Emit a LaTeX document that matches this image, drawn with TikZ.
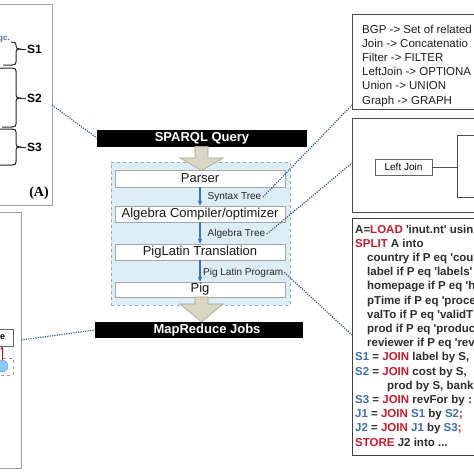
\documentclass[tikz,border=0pt]{standalone}
\usepackage{fontspec}
\setmainfont{Liberation Sans}
\newfontfamily\timesfont{Liberation Serif}
\usetikzlibrary{arrows.meta}
\definecolor{dotblue}{HTML}{3B5F8A}
\definecolor{flowblue}{HTML}{3A72C4}
\definecolor{panelfill}{HTML}{DCEDF5}
\definecolor{panelline}{HTML}{9AAAB4}
\definecolor{khaki}{HTML}{D8D8C2}
\definecolor{khakiline}{HTML}{A6A690}
\definecolor{codered}{HTML}{C41E2E}
\definecolor{codeblue}{HTML}{3F6FAE}
\definecolor{codetext}{HTML}{2E2E2E}
\definecolor{linkblue}{HTML}{4A6FA5}
\definecolor{cloudblue}{HTML}{8CC8F0}
\newcommand{\cR}[1]{\textcolor{codered}{#1}}
\newcommand{\cB}[1]{\textcolor{codeblue}{#1}}
\newcommand{\sq}{\textquotesingle}
\begin{document}
\begin{tikzpicture}[x=1pt,y=-1pt,
  frame/.style={draw=gray!75, line width=0.8pt, inner sep=0pt},
  stepbox/.style={draw=gray!70, fill=white, line width=0.7pt, minimum width=170pt, minimum height=16pt, inner sep=0pt, font=\fontsize{13}{13}\selectfont, text=black!90},
  bar/.style={fill=black, text=white, font=\bfseries\fontsize{13}{13}\selectfont, minimum height=16pt, inner sep=0pt},
  edgelbl/.style={font=\fontsize{10}{10}\selectfont, text=black!85, inner sep=1.5pt, anchor=west},
  dotline/.style={draw=dotblue, line width=1.2pt, dash pattern=on 1.2pt off 1.2pt},
  flow/.style={draw=flowblue, line width=1.1pt, -{Stealth[length=5pt,width=4.5pt]}},
  blockarrow/.style={fill=khaki, draw=khakiline, line width=0.6pt},
  rbox/.style={draw=black!70, line width=0.7pt, anchor=north west, inner sep=0pt},
  mapline/.style={font=\fontsize{11.5}{11.5}\selectfont, text=black!88, anchor=base west, inner sep=0pt},
  codeline/.style={font=\bfseries\fontsize{11.5}{11.5}\selectfont, text=codetext, anchor=base west, inner sep=0pt},
  slabel/.style={font=\bfseries\fontsize{12}{12}\selectfont, anchor=west, inner sep=0pt},
  bracel/.style={line width=1pt, draw=black!85},
]
\useasboundingbox (0,0) rectangle (474,474);
\fill[white] (0,0) rectangle (474,474);

% ---------- top-left panel ----------
\node[frame, anchor=north west, minimum width=57pt, minimum height=201pt] (tlbox) at (-5,4) {};
\node[font=\bfseries\fontsize{8}{8}\selectfont, text=linkblue, anchor=east, inner sep=0pt] (gc) at (10,39) {gc.};
\foreach \ya/\yt/\yb/\xa/\xb/\nm in {42/49/65/11/3/S1, 68/98/127/0/2/S2, 129/147/165/0/0/S3}{
  \draw[bracel] (\xa,\ya) -- (12,\ya) .. controls (15,\ya) and (16,\ya+1) .. (16,\ya+3)
     -- (16,\yt-3) .. controls (16,\yt-1) and (17,\yt) .. (20,\yt)
     .. controls (17,\yt) and (16,\yt+1) .. (16,\yt+3)
     -- (16,\yb-3) .. controls (16,\yb-1) and (15,\yb) .. (12,\yb) -- (\xb,\yb);
  \draw[bracel] (20,\yt) -- (26,\yt);
  \node[slabel] (\nm) at (27,\yt) {\nm};
}
\node[font=\timesfont\bfseries\fontsize{14}{14}\selectfont, inner sep=0pt] (alabel) at (39,193) {(A)};
\coordinate (tlout) at (52,105);

% ---------- bottom-left panel ----------
\node[frame, anchor=north west, minimum width=26pt, minimum height=256pt] (lbbox) at (-5,212) {};
\node[draw=black!60, fill=white, anchor=north west, minimum width=18pt, minimum height=17pt, inner sep=0pt] (ebox) at (-5,329) {};
\node[font=\bfseries\fontsize{9}{9}\selectfont, anchor=west, inner sep=0pt] (etext) at (0,337.5) {e};
\node[draw=gray!80, dashed, line width=0.5pt, anchor=north west, minimum width=18pt, minimum height=17pt, inner sep=0pt] (cbox) at (-5,358) {};
\node[circle, fill=cloudblue, draw=cloudblue!70!blue, line width=0.4pt, minimum size=12pt, inner sep=0pt] (cloud) at (2,366) {};
\draw[draw=red!80!black, line width=0.8pt, -{Stealth[length=3.5pt,width=3pt]}] (cloud.north) -- (cloud.north |- ebox.south);
\coordinate (lbout) at (21,340);

% ---------- centre ----------
\node[draw=panelline, dashed, fill=panelfill, line width=0.6pt, anchor=north west, minimum width=179pt, minimum height=143pt, inner sep=0pt] (panel) at (111,162) {};
\node[bar, minimum width=210pt, minimum height=17pt] (sparql) at (202,138) {SPARQL Query};
\node[bar, minimum width=208pt] (mapred) at (199,330) {\hspace{16pt}MapReduce Jobs};

\node[stepbox, minimum height=17pt] (parser) at (200,178.5) {Parser};
\node[stepbox] (alg) at (200,214) {Algebra Compiler/optimizer};
\node[stepbox] (pigl) at (200,252) {PigLatin Translation};
\node[stepbox, minimum height=15pt] (pig) at (200,289.5) {Pig};

\draw[flow] (parser) -- (alg);
\draw[flow] (alg) -- (pigl);
\draw[flow] (pigl) -- (pig);

\node[edgelbl] (syn) at (206,197) {Syntax Tree};
\node[edgelbl] (algt) at (206,234) {Algebra Tree};
\node[edgelbl, inner sep=1pt] (pgl) at (202,272.5) {Pig Latin Program};

\draw[blockarrow] (195,146.5) -- (208,146.5) -- (208,158) -- (223,158) -- (201.5,170.5) -- (180,158) -- (195,158) -- cycle;
\draw[blockarrow] (195,297) -- (208,297) -- (208,304) -- (223,304) -- (201.5,322) -- (180,304) -- (195,304) -- cycle;

% ---------- right: mapping box ----------
\node[rbox, minimum width=128pt, minimum height=95pt] (mapbox) at (352,14) {};
\node[mapline] (m1) at (362,33.1) {BGP -> Set of related};
\node[mapline] (m2) at (362,47.3) {Join -> Concatenatio};
\node[mapline] (m3) at (362,61.5) {Filter -> FILTER};
\node[mapline] (m4) at (362,75.7) {LeftJoin -> OPTIONA};
\node[mapline] (m5) at (362,89.9) {Union -> UNION};
\node[mapline] (m6) at (362,104.1) {Graph -> GRAPH};
\coordinate (mapin) at (352,105);

% ---------- right: tree box ----------
\node[rbox, minimum width=128pt, minimum height=94pt] (treebox) at (352,118) {};
\node[draw=black!60, line width=0.6pt, minimum width=57pt, minimum height=16pt, inner sep=0pt, font=\fontsize{10}{10}\selectfont] (lj) at (403.5,167) {Left Join};
\coordinate (jm) at (457,167);
\coordinate (jt) at (457,135);
\coordinate (jb) at (457,197);
\coordinate (jtr) at (480,135);
\coordinate (jbr) at (480,197);
\draw[black!70, line width=0.6pt] (lj) -- (jm);
\draw[black!70, line width=0.6pt] (jt) -- (jb);
\draw[black!70, line width=0.6pt] (jt) -- (jtr);
\draw[black!70, line width=0.6pt] (jb) -- (jbr);
\coordinate (treein) at (352,163);

% ---------- right: code box ----------
\node[rbox, draw=black!75, line width=1pt, minimum width=128pt, minimum height=237pt] (codebox) at (352,218) {};
\node[codeline] (c0) at (355,233.1) {A=\cR{LOAD} \sq inut.nt\sq{} usin};
\node[codeline] (c1) at (355,247.3) {\cR{SPLIT} A into};
\node[codeline] (c2) at (367,261.5) {country if P eq \sq cou};
\node[codeline] (c3) at (367,275.7) {label if P eq \sq labels\sq};
\node[codeline] (c4) at (367,289.9) {homepage if P eq \sq h};
\node[codeline] (c5) at (367,304.1) {pTime if P eq \sq proce};
\node[codeline] (c6) at (367,318.3) {valTo if P eq \sq validT};
\node[codeline] (c7) at (367,332.5) {prod if P eq \sq produc};
\node[codeline] (c8) at (367,346.7) {reviewer if P eq \sq rev};
\node[codeline] (c9) at (355,360.9) {\cB{S1} = \cR{JOIN} label by S,};
\node[codeline] (c10) at (355,375.1) {\cB{S2} = \cR{JOIN} cost by S,};
\node[codeline] (c11) at (387,389.3) {prod by S, bank};
\node[codeline] (c12) at (355,403.5) {\cB{S3} = \cR{JOIN} revFor by :};
\node[codeline] (c13) at (355,417.7) {\cB{J1} = \cR{JOIN} \cB{S1} by \cB{S2}\cR{;}};
\node[codeline] (c14) at (355,431.9) {\cB{J2} = \cR{JOIN} \cB{J1} by \cB{S3}\cR{;}};
\node[codeline] (c15) at (355,446.1) {\cR{STORE} J2 into ...};
\coordinate (codein) at (352,335);

% ---------- dotted links ----------
\draw[dotline] (tlout) -- (sparql.west);
\draw[dotline] (lbout) -- (mapred.west);
\draw[dotline] (syn.east) -- (mapin);
\draw[dotline] (algt.east) -- (treein);
\draw[dotline] (pgl.east) -- (codein);
\end{tikzpicture}
\end{document}
